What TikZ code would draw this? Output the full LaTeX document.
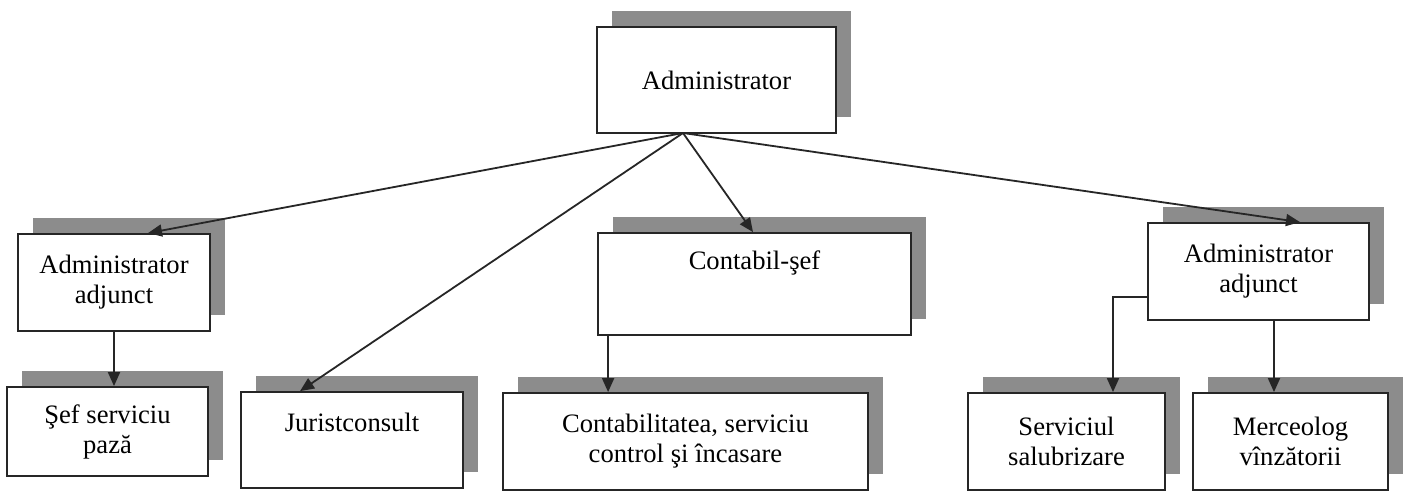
\documentclass[tikz,border=0pt]{standalone}
\usepackage{fontspec}
\setmainfont{Liberation Serif}
\usetikzlibrary{shadows,arrows.meta,calc}
\begin{document}
\begin{tikzpicture}[x=0.5pt,y=-0.5pt,
  orgbox/.style={draw=black!85, line width=0.9pt, fill=white, inner sep=0pt,
    align=center, font=\fontsize{13.3}{15}\selectfont,
    drop shadow={shadow xshift=7.5pt, shadow yshift=8pt, fill=black!45, opacity=1}},
  lbl/.style={align=center, inner sep=0pt, font=\fontsize{13.3}{15}\selectfont},
  conn/.style={line width=0.9pt, draw=black!85, -{Triangle[length=7pt,width=6pt]}}]
\useasboundingbox (0,0) rectangle (1410,491);
\fill[white] (0,0) rectangle (1410,491);
% boxes
\node[orgbox, minimum width=119.5pt, minimum height=53pt] (adm) at (716.5,80) {Administrator};
\node[orgbox, minimum width=96pt, minimum height=48.5pt] (adjL) at (114,282.5) {Administrator\\adjunct};
\node[orgbox, minimum width=156.5pt, minimum height=51pt] (cont) at (754.5,284) {};
\node[lbl] (contt) at (754.5,263) {Contabil-şef};
\node[orgbox, minimum width=110.5pt, minimum height=48.5pt] (adjR) at (1258.5,271.5) {Administrator\\adjunct};
\node[orgbox, minimum width=100.5pt, minimum height=44.5pt] (sef) at (107.5,431.5) {Şef serviciu\\pază};
\node[orgbox, minimum width=111pt, minimum height=48pt] (jur) at (352,440) {};
\node[lbl] (jurt) at (352,422) {Juristconsult};
\node[orgbox, minimum width=182.5pt, minimum height=48.5pt] (cta) at (685.5,441.5) {Contabilitatea, serviciu\\control şi încasare};
\node[orgbox, minimum width=98.5pt, minimum height=48.5pt] (sal) at (1066.5,441.5) {Serviciul\\salubrizare};
\node[orgbox, minimum width=97.5pt, minimum height=48.5pt] (mer) at (1290.5,441.5) {Merceolog\\vînzătorii};
% connectors
\coordinate (hub) at (683,133);
\draw[conn] (hub) -- ($(adjL.north)+(34,0)$);
\draw[conn] (hub) -- ($(jur.north)+(-52,0)$);
\draw[conn] (hub) -- ($(cont.north)+(-1.5,0)$);
\draw[conn] (hub) -- ($(adjR.north)+(41.5,0)$);
\draw[conn] (adjL.south) -- (adjL.south |- sef.north);
\coordinate (cdown) at ($(cont.south west)+(11,0)$);
\draw[conn] (cdown) -- (cdown |- cta.north);
\coordinate (rdown) at ($(adjR.south)+(15.5,0)$);
\draw[conn] (rdown) -- (rdown |- mer.north);
\coordinate (rside) at ($(adjR.west)+(0,25.5)$);
\coordinate (salt) at ($(sal.north)+(46.5,0)$);
\draw[conn] (rside) -- (rside -| salt) -- (salt);
\end{tikzpicture}
\end{document}
